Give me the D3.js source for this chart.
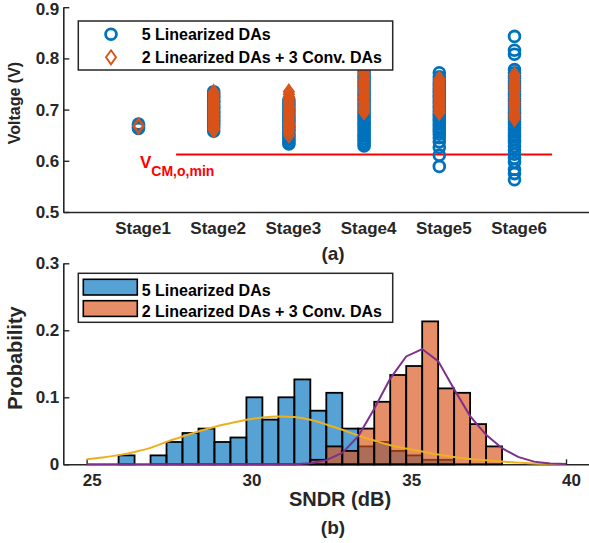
<!DOCTYPE html>
<html>
<head>
<meta charset="utf-8">
<script src="https://cdn.jsdelivr.net/npm/d3@7"></script>
<style>
	body { margin: 0; background: #fff; }
	svg text { font-family: "Liberation Sans", Arial, sans-serif; font-weight: bold; }
</style>
</head>
<body>
<svg id="chart" width="589" height="543"></svg>
<script>
// ---------- panel (a): output common-mode voltage per stage ----------
const stages = ['Stage1', 'Stage2', 'Stage3', 'Stage4', 'Stage5', 'Stage6']
const voltTicks = [0.5, 0.6, 0.7, 0.8, 0.9]

// 5 linearized DAs (blue circles), one list per stage
const linV = [
	[0.663, 0.666, 0.669, 0.672],
	[0.658, 0.664, 0.669, 0.673, 0.678, 0.681, 0.686, 0.689, 0.694, 0.697, 0.702, 0.705, 0.709, 0.714, 0.717, 0.722, 0.726, 0.731, 0.735],
	[0.633, 0.636, 0.641, 0.645, 0.649, 0.652, 0.657, 0.661, 0.666, 0.670, 0.675, 0.679, 0.684, 0.688, 0.693, 0.698, 0.703, 0.708, 0.713, 0.718],
	[0.629, 0.633, 0.638, 0.643, 0.648, 0.652, 0.657, 0.662, 0.667, 0.671, 0.676, 0.681, 0.686, 0.691, 0.696, 0.701, 0.706, 0.711, 0.716, 0.721, 0.726, 0.731, 0.736, 0.741, 0.746, 0.751, 0.756, 0.761, 0.766, 0.772, 0.778],
	[0.589, 0.611, 0.626, 0.637, 0.645, 0.652, 0.657, 0.662, 0.667, 0.672, 0.677, 0.682, 0.687, 0.692, 0.697, 0.702, 0.707, 0.712, 0.717, 0.722, 0.727, 0.732, 0.737, 0.742, 0.747, 0.752, 0.758, 0.764, 0.772],
	[0.563, 0.575, 0.583, 0.597, 0.605, 0.613, 0.621, 0.628, 0.636, 0.641, 0.646, 0.651, 0.656, 0.661, 0.666, 0.671, 0.676, 0.681, 0.686, 0.691, 0.696, 0.701, 0.706, 0.711, 0.716, 0.721, 0.726, 0.731, 0.736, 0.741, 0.746, 0.751, 0.756, 0.761, 0.766, 0.772, 0.778, 0.808, 0.816, 0.843]
]

// 2 linearized DAs + 3 conv. DAs (orange diamonds)
const convV = [
	[0.667, 0.669],
	[0.660, 0.663, 0.668, 0.672, 0.676, 0.680, 0.684, 0.688, 0.692, 0.696, 0.700, 0.704, 0.708, 0.712, 0.716, 0.720, 0.724, 0.729, 0.734],
	[0.650, 0.657, 0.662, 0.667, 0.671, 0.676, 0.680, 0.685, 0.689, 0.694, 0.698, 0.703, 0.707, 0.712, 0.716, 0.721, 0.725, 0.730, 0.735],
	[0.695, 0.699, 0.704, 0.708, 0.713, 0.717, 0.722, 0.726, 0.731, 0.735, 0.740, 0.744, 0.749, 0.753, 0.758, 0.762, 0.767, 0.772, 0.777],
	[0.694, 0.699, 0.703, 0.708, 0.712, 0.716, 0.721, 0.725, 0.730, 0.734, 0.739, 0.743, 0.748, 0.752, 0.757, 0.760],
	[0.682, 0.687, 0.691, 0.696, 0.700, 0.705, 0.709, 0.714, 0.718, 0.723, 0.727, 0.732, 0.736, 0.741, 0.745, 0.750, 0.754, 0.759, 0.763, 0.768]
]

const vcmMin = 0.6125
const vcmFrom = 1.5
const vcmTo = 6.5

// ---------- panel (b): SNDR histograms ----------
const binLeft = [26, 26.5, 27, 27.5, 28, 28.5, 29, 29.5, 30, 30.5, 31, 31.5, 32, 32.5, 33, 33.5, 34, 34.5, 35, 35.5, 36, 36.5, 37, 37.5]
const binWidth = 0.5
const linProb = [0.0133, 0, 0.0133, 0.0333, 0.0467, 0.0533, 0.0333, 0.04, 0.1, 0.0667, 0.1, 0.1267, 0.08, 0.1067, 0.0533, 0.0267, 0.0333, 0.02, 0.0133, 0.0067, 0.0067, 0, 0, 0]
const convProb = [0, 0, 0, 0, 0, 0, 0, 0, 0, 0, 0, 0, 0.0067, 0.0267, 0.02, 0.0533, 0.0933, 0.1333, 0.1467, 0.2133, 0.1133, 0.1067, 0.06, 0.0267]

const fitX = [25, 25.5, 26, 26.5, 27, 27.5, 28, 28.5, 29, 29.5, 30, 30.5, 31, 31.5, 32, 32.5, 33, 33.5, 34, 34.5, 35, 35.5, 36, 36.5, 37, 37.5, 38, 38.5, 39, 39.5, 40]
const linFit = [0.0075, 0.0100, 0.0137, 0.0185, 0.0245, 0.0335, 0.0415, 0.0490, 0.0558, 0.0613, 0.0665, 0.0700, 0.0715, 0.0705, 0.0665, 0.0595, 0.0515, 0.0430, 0.0355, 0.0285, 0.0235, 0.0190, 0.0145, 0.0110, 0.0080, 0.0060, 0.0040, 0.0025, 0.0012, 0.0006, 0.0003]
const convFit = [0, 0, 0, 0, 0, 0, 0, 0, 0, 0, 0, 0, 0, 0, 0.0015, 0.0062, 0.017, 0.042, 0.083, 0.128, 0.161, 0.172, 0.154, 0.112, 0.072, 0.044, 0.024, 0.011, 0.004, 0.0012, 0.0003]

const sndrTicks = [25, 30, 35, 40]
const probTicks = [0, 0.1, 0.2, 0.3]

const axisColor = '#262626'
const blue = '#0072BD'
const orange = '#D95319'

const svg = d3.select('#chart')

function styleAxis(g, fontSize) {
	g.select('.domain').attr('stroke', axisColor).attr('stroke-width', 1.6)
	g.selectAll('.tick line').attr('stroke', axisColor).attr('stroke-width', 1.4)
	g.selectAll('.tick text')
		.attr('fill', axisColor)
		.attr('font-size', fontSize + 'px')
		.attr('font-family', null)
}

function diamond(cx, cy) {
	return 'M' + cx + ',' + (cy - 7) + 'L' + (cx + 5) + ',' + cy + 'L' + cx + ',' + (cy + 7) + 'L' + (cx - 5) + ',' + cy + 'Z'
}

// ===== panel (a) =====
const xa = d3.scaleLinear().domain([0, 7]).range([63.3, 589.7])
const ya = d3.scaleLinear().domain([0.5, 0.9]).range([212, 7.2])

const gxa = svg.append('g')
	.attr('transform', 'translate(0,212)')
	.call(d3.axisBottom(xa).tickValues([1, 2, 3, 4, 5, 6]).tickFormat(d => stages[d - 1]).tickSize(0).tickPadding(9.5))
styleAxis(gxa, 17)
gxa.selectAll('.tick text').attr('dx', 4)

const gya = svg.append('g')
	.attr('transform', 'translate(63.3,0)')
	.call(d3.axisLeft(ya).tickValues(voltTicks).tickFormat(d3.format('.1f')).tickSize(-6).tickPadding(4).tickSizeOuter(0))
styleAxis(gya, 17)
// keep the top label inside the page
gya.selectAll('.tick text').filter(d => d === 0.9).attr('dy', '0.42em')

// red limit line
svg.append('line')
	.attr('x1', xa(vcmFrom)).attr('x2', xa(vcmTo))
	.attr('y1', ya(vcmMin)).attr('y2', ya(vcmMin))
	.attr('stroke', '#FF0000').attr('stroke-width', 2)

const vcm = svg.append('text')
	.attr('x', 140).attr('y', 168)
	.attr('fill', '#FF0000').attr('font-size', '17px')
	.text('V')
vcm.append('tspan').attr('dy', 7.5).attr('font-size', '14px').text('CM,o,min')

// blue circles then orange diamonds
linV.forEach((vals, i) => {
	svg.append('g').selectAll('circle')
		.data(vals).join('circle')
		.attr('cx', xa(i + 1)).attr('cy', d => ya(d))
		.attr('r', 5.4)
		.attr('fill', 'none').attr('stroke', blue).attr('stroke-width', 2.8)
})
convV.forEach((vals, i) => {
	svg.append('g').selectAll('path')
		.data(vals).join('path')
		.attr('d', d => diamond(xa(i + 1), ya(d)))
		.attr('fill', 'none').attr('stroke', orange).attr('stroke-width', 1.9)
})

// legend (a)
svg.append('rect')
	.attr('x', 78.3).attr('y', 21).attr('width', 314.4).attr('height', 49)
	.attr('fill', '#fff').attr('stroke', axisColor).attr('stroke-width', 1.5)
svg.append('circle')
	.attr('cx', 111).attr('cy', 34.3).attr('r', 5.4)
	.attr('fill', 'none').attr('stroke', blue).attr('stroke-width', 2.8)
svg.append('path')
	.attr('d', diamond(111, 57.3))
	.attr('fill', 'none').attr('stroke', orange).attr('stroke-width', 1.9)
svg.append('text').attr('x', 141.7).attr('y', 34.3).attr('dy', '0.36em')
	.attr('font-size', '16px').attr('fill', '#000').text('5 Linearized DAs')
svg.append('text').attr('x', 141.7).attr('y', 57.3).attr('dy', '0.36em')
	.attr('font-size', '16px').attr('fill', '#000').text('2 Linearized DAs + 3 Conv. DAs')

svg.append('text')
	.attr('transform', 'translate(20,103) rotate(-90)')
	.attr('text-anchor', 'middle')
	.attr('font-size', '16px').attr('fill', axisColor)
	.text('Voltage (V)')

svg.append('text')
	.attr('x', 333).attr('y', 260)
	.attr('text-anchor', 'middle')
	.attr('font-size', '19px').attr('fill', axisColor)
	.text('(a)')

// ===== panel (b) =====
const xb = d3.scaleLinear().domain([24.27, 40.72]).range([63.3, 589])
const yb = d3.scaleLinear().domain([0, 0.3]).range([464.3, 263.3])

const gxb = svg.append('g')
	.attr('transform', 'translate(0,464.3)')
	.call(d3.axisBottom(xb).tickValues(sndrTicks).tickFormat(d3.format('d')).tickSize(-5).tickPadding(9.6).tickSizeOuter(0))
styleAxis(gxb, 17)
gxb.selectAll('.tick text').attr('dx', 5)

const gyb = svg.append('g')
	.attr('transform', 'translate(63.3,0)')
	.call(d3.axisLeft(yb).tickValues(probTicks).tickFormat(d => d === 0 ? '0' : d.toFixed(1)).tickSize(-6).tickPadding(4).tickSizeOuter(0))
styleAxis(gyb, 17)

function drawBars(probs, color) {
	const bins = binLeft.map((b, i) => ({ x0: b, p: probs[i] })).filter(d => d.p > 0)
	svg.append('g').selectAll('rect')
		.data(bins).join('rect')
		.attr('x', d => xb(d.x0))
		.attr('width', d => xb(d.x0 + binWidth) - xb(d.x0))
		.attr('y', d => yb(d.p))
		.attr('height', d => yb(0) - yb(d.p))
		.attr('fill', color).attr('fill-opacity', 0.66)
		.attr('stroke', '#000').attr('stroke-width', 1.8)
}
drawBars(linProb, blue)
drawBars(convProb, orange)

svg.append('path')
	.datum(d3.zip(fitX, linFit))
	.attr('fill', 'none').attr('stroke', '#EDB120').attr('stroke-width', 2)
	.attr('d', d3.line().x(d => xb(d[0])).y(d => yb(d[1])).curve(d3.curveMonotoneX))

svg.append('path')
	.datum(d3.zip(fitX, convFit))
	.attr('fill', 'none').attr('stroke', '#7E2F8E').attr('stroke-width', 2)
	.attr('d', d3.line().x(d => xb(d[0])).y(d => yb(d[1])))

// legend (b)
svg.append('rect')
	.attr('x', 78.3).attr('y', 273.3).attr('width', 314.4).attr('height', 49)
	.attr('fill', '#fff').attr('stroke', axisColor).attr('stroke-width', 1.5)
svg.append('rect')
	.attr('x', 83.3).attr('y', 279.3).attr('width', 54).attr('height', 15.7)
	.attr('fill', blue).attr('fill-opacity', 0.66).attr('stroke', '#000').attr('stroke-width', 1.6)
svg.append('rect')
	.attr('x', 83.3).attr('y', 300.7).attr('width', 54).attr('height', 15.7)
	.attr('fill', orange).attr('fill-opacity', 0.66).attr('stroke', '#000').attr('stroke-width', 1.6)
svg.append('text').attr('x', 141.7).attr('y', 290).attr('dy', '0.36em')
	.attr('font-size', '16px').attr('fill', '#000').text('5 Linearized DAs')
svg.append('text').attr('x', 141.7).attr('y', 310.8).attr('dy', '0.36em')
	.attr('font-size', '16px').attr('fill', '#000').text('2 Linearized DAs + 3 Conv. DAs')

svg.append('text')
	.attr('transform', 'translate(21.5,358) rotate(-90)')
	.attr('text-anchor', 'middle')
	.attr('font-size', '20px').attr('fill', axisColor)
	.text('Probability')

svg.append('text')
	.attr('x', 340).attr('y', 506)
	.attr('text-anchor', 'middle')
	.attr('font-size', '20px').attr('fill', axisColor)
	.text('SNDR (dB)')

svg.append('text')
	.attr('x', 333).attr('y', 534)
	.attr('text-anchor', 'middle')
	.attr('font-size', '19px').attr('fill', axisColor)
	.text('(b)')
</script>
</body>
</html>
